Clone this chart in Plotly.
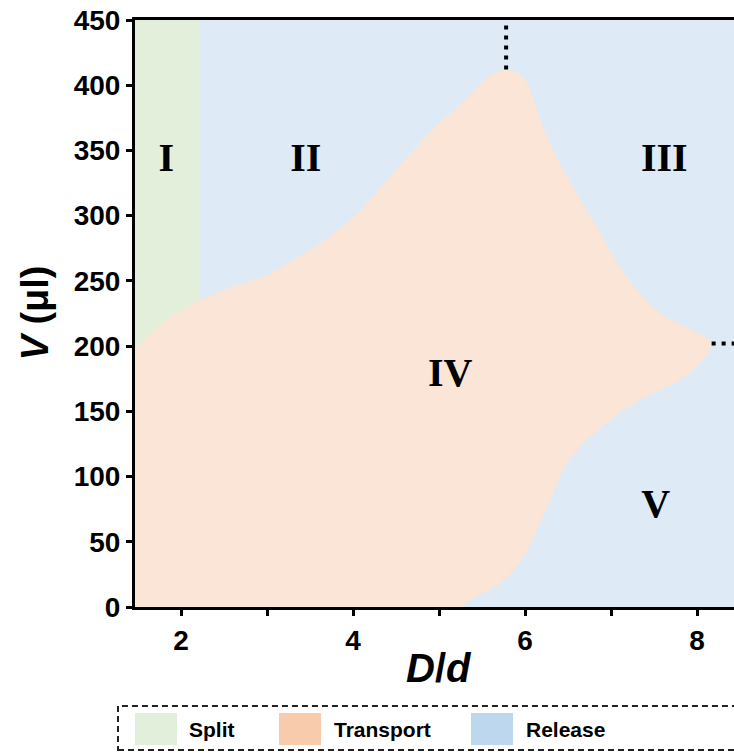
import plotly.graph_objects as go

# ---- data ----
# Transport region boundary (closed outline, D/d vs V in µl), traced clockwise
transport_x = [1.30, 1.465, 1.79, 2.22, 2.57, 2.95, 3.35, 3.73, 4.12, 4.48, 4.93, 5.33, 5.56, 5.78,
               5.98, 6.09, 6.21, 6.37, 6.60, 6.84, 7.10, 7.37, 7.60, 7.95, 8.17,
               8.03, 7.80, 7.34, 6.95, 6.64, 6.44, 6.33, 6.17, 5.98, 5.71, 5.33, 5.10, 1.30]
transport_y = [186, 197, 218, 235, 245, 253, 268, 284, 306, 334, 366, 391, 406, 412,
               406, 391, 368, 345, 317, 291, 261, 238, 224, 212, 202,
               187, 174, 159, 141, 123, 105, 87, 64, 38, 18, 3, -20, -20]

# Split region: column at small D/d
split_x = [1.30, 2.22, 2.22, 1.30]
split_y = [-20, -20, 470, 470]

# boundary markers (dotted)
peak_x = [5.78, 5.78]
peak_y = [412, 450]
tip_x = [8.17, 8.60]
tip_y = [202, 202]

# region labels
region_text = ["I", "II", "III", "IV", "V"]
region_x = [1.83, 3.45, 7.62, 5.13, 7.52]
region_y = [342, 342, 342, 177, 77]

x_tickvals = [2, 3, 4, 5, 6, 7, 8]
x_ticktext = ["2", "", "4", "", "6", "", "8"]
y_tickvals = [0, 50, 100, 150, 200, 250, 300, 350, 400, 450]

legend_names = ["Split", "Transport", "Release"]
legend_colors = ["#E2EFDA", "#F8CBAD", "#BDD7EE"]

# ---- styles ----
c_split = "#E3EFDA"
c_transport = "#FAE5D7"
c_release = "#DEEAF6"
sans = "Liberation Sans"
serif = "Liberation Serif"

fig = go.Figure()
fig.add_trace(go.Scatter(x=split_x, y=split_y, fill="toself", fillcolor=c_split,
                         mode="none", showlegend=False, hoverinfo="skip"))
fig.add_trace(go.Scatter(x=transport_x, y=transport_y, fill="toself", fillcolor=c_transport,
                         mode="lines", line=dict(width=0, shape="spline", smoothing=1.0, color=c_transport),
                         showlegend=False, hoverinfo="skip"))
for lx, ly in ((peak_x, peak_y), (tip_x, tip_y)):
    fig.add_trace(go.Scatter(x=lx, y=ly, mode="lines",
                             line=dict(color="black", width=4, dash="4px,6px"),
                             showlegend=False, hoverinfo="skip", cliponaxis=True))
fig.add_trace(go.Scatter(x=region_x, y=region_y, mode="text", text=region_text,
                         textfont=dict(family=serif, size=40, color="black", weight="bold"),
                         showlegend=False, hoverinfo="skip"))

annotations = [
    dict(text="<b><i>V</i> (μl)</b>", xref="paper", yref="paper", x=-0.1686, y=0.5,
         textangle=-90, showarrow=False, font=dict(family=sans, size=38, color="black"),
         xanchor="center", yanchor="middle"),
    dict(text="<b><i>D</i>/<i>d</i></b>", xref="paper", yref="paper", x=0.5075, y=-0.1039,
         showarrow=False, font=dict(family=sans, size=40, color="black"),
         xanchor="center", yanchor="middle"),
]
shapes = [
    dict(type="rect", xref="paper", yref="paper", x0=-0.0284, x1=1.02, y0=-0.2436, y1=-0.1687,
         line=dict(color="#222222", width=2, dash="6px,4px"), fillcolor="white", layer="above"),
]
sw_x0 = [0.0, 0.2404, 0.5609]
txt_x = [0.0868, 0.3289, 0.6494]
for name, col, x0, tx in zip(legend_names, legend_colors, sw_x0, txt_x):
    shapes.append(dict(type="rect", xref="paper", yref="paper", x0=x0, x1=x0 + 0.0702,
                       y0=-0.2351, y1=-0.1806, line=dict(width=0), fillcolor=col, layer="above"))
    annotations.append(dict(text="<b>%s</b>" % name, xref="paper", yref="paper", x=tx, y=-0.2095,
                            showarrow=False, xanchor="left", yanchor="middle",
                            font=dict(family=sans, size=21, color="black")))

fig.update_layout(
    width=734, height=753,
    margin=dict(l=135, r=0, t=20, b=146),
    paper_bgcolor="white", plot_bgcolor=c_release,
    shapes=shapes, annotations=annotations,
    xaxis=dict(range=[1.465, 8.43], tickvals=x_tickvals, ticktext=x_ticktext,
               showgrid=False, zeroline=False, showline=True, linecolor="black", linewidth=3,
               mirror=True, ticks="outside", ticklen=6, tickwidth=3, tickcolor="black",
               tickfont=dict(family=sans, size=28, color="black", weight="bold")),
    yaxis=dict(range=[0, 450], tickvals=y_tickvals,
               showgrid=False, zeroline=False, showline=True, linecolor="black", linewidth=3,
               ticks="outside", ticklen=6, tickwidth=3, tickcolor="black",
               tickfont=dict(family=sans, size=28, color="black", weight="bold")),
)

# remove the default page margin so the figure sits at the window's top-left corner
fig.write_html("out.html", config={"displayModeBar": False},
               post_script="document.body.style.margin='0';document.body.style.overflow='hidden';")
